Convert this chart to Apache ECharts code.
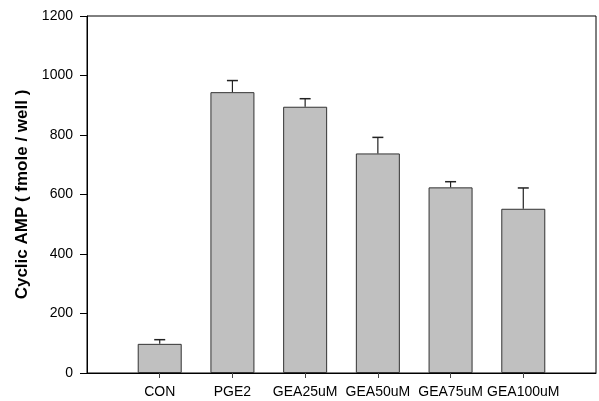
<!DOCTYPE html>
<html>
<head>
<meta charset="utf-8">
<script src="https://cdn.jsdelivr.net/npm/echarts@6/dist/echarts.min.js"></script>
<style>
  html, body { margin: 0; padding: 0; background: #fff; }
  #chart { width: 599px; height: 401px; }
</style>
</head>
<body>
<div id="chart"></div>
<script>
// treatment groups and measured cAMP
const categories = ["CON", "PGE2", "GEA25uM", "GEA50uM", "GEA75uM", "GEA100uM"];
const means = [98, 944, 895, 738, 624, 552];
const errors = [14, 39, 27, 54, 19, 70];
const yTicks = [0, 200, 400, 600, 800, 1000, 1200];

// pad one empty slot on each side so the bars sit at 1..6 of 0..7
const axisCats = [""].concat(categories, [""]);
const barData = ["-"].concat(means, ["-"]);
const errData = means.map((m, i) => [i + 1, m, m + errors[i]]);

const chart = echarts.init(document.getElementById("chart"));

chart.setOption({
  animation: false,
  grid: {
    left: 87, right: 3, top: 16, bottom: 28,
    show: true, borderColor: "#000", borderWidth: 1
  },
  xAxis: {
    type: "category",
    data: axisCats,
    boundaryGap: false,
    axisLine: { lineStyle: { color: "#000", width: 1 } },
    axisTick: {
      length: 5, lineStyle: { color: "#444" },
      interval: (i) => i > 0 && i < axisCats.length - 1
    },
    axisLabel: {
      color: "#000", fontFamily: "Liberation Sans, Arial", fontSize: 14,
      margin: 12, interval: 0
    },
    splitLine: { show: false }
  },
  yAxis: {
    type: "value",
    min: yTicks[0],
    max: yTicks[yTicks.length - 1],
    interval: 200,
    name: "Cyclic AMP ( fmole / well )",
    nameLocation: "middle",
    nameGap: 55,
    nameTextStyle: {
      color: "#000", fontFamily: "Liberation Sans, Arial",
      fontSize: 17, fontWeight: "bold"
    },
    axisLine: { show: true, lineStyle: { color: "#000", width: 1 } },
    axisTick: { show: true, length: 7, lineStyle: { color: "#000" } },
    axisLabel: {
      color: "#000", fontFamily: "Liberation Sans, Arial", fontSize: 14, margin: 14,
      formatter: (v) => String(v)
    },
    splitLine: { show: false }
  },
  series: [
    {
      type: "bar",
      data: barData,
      barWidth: 44,
      itemStyle: { color: "#c0c0c0", borderColor: "#333", borderWidth: 1 }
    },
    {
      type: "custom",
      data: errData,
      z: 3,
      renderItem: function (params, api) {
        const base = api.coord([api.value(0), api.value(1)]);
        const top = api.coord([api.value(0), api.value(2)]);
        const half = 5.5;
        return {
          type: "group",
          children: [
            {
              type: "line",
              shape: { x1: base[0], y1: base[1], x2: top[0], y2: top[1] },
              style: { stroke: "#222", lineWidth: 1.2 }
            },
            {
              type: "line",
              shape: { x1: top[0] - half, y1: top[1], x2: top[0] + half, y2: top[1] },
              style: { stroke: "#222", lineWidth: 1.5 }
            }
          ]
        };
      }
    }
  ]
});
</script>
</body>
</html>
